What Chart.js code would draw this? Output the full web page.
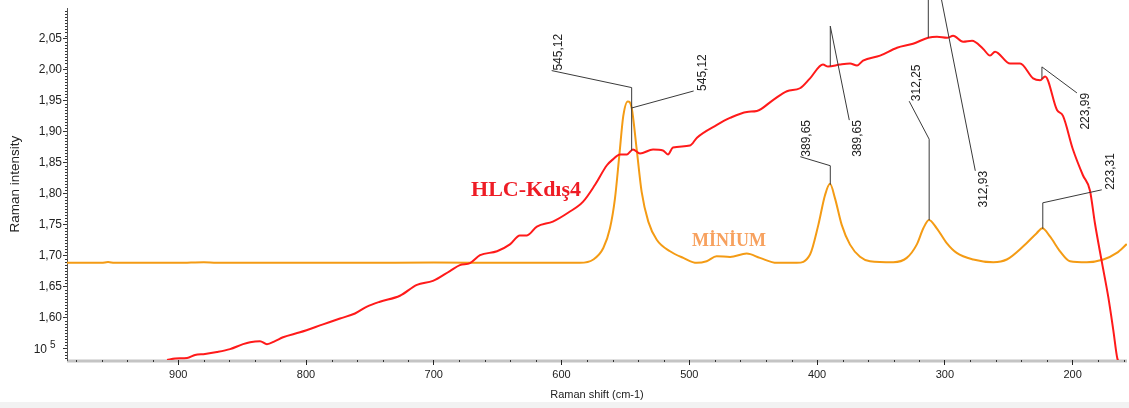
<!DOCTYPE html>
<html>
<head>
<meta charset="utf-8">
<script src="https://cdn.jsdelivr.net/npm/chart.js@4.4.1/dist/chart.umd.min.js"></script>
<style>
  html, body { margin: 0; padding: 0; background: #fff; }
  #wrap { width: 1129px; height: 408px; }
</style>
</head>
<body>
<div id="wrap"><canvas id="c" width="1129" height="408"></canvas></div>
<script>
// Raman spectra: HLC-Kdış4 (red) vs MİNİUM reference (orange), intensities in 10^5
var redShift = [908.8, 902.5, 893.1, 886.9, 879.1, 869.7, 859.5, 849.3, 843.8, 836.0, 830.6, 824.3, 818.0, 804.7,
  786.7, 773.4, 761.7, 752.3, 742.2, 726.5, 713.2, 700.7, 687.4, 679.6, 671.6, 663.8, 650.5, 640.4, 632.6, 627.1,
  619.3, 606.8, 594.9, 583.3, 573.9, 564.5, 559.8, 554.3, 548.8, 544.1, 538.6, 528.4, 520.6, 516.7, 512.8, 499.5,
  494.0, 478.4, 468.2, 454.9, 447.1, 434.5, 423.6, 413.4, 405.5, 395.4, 391.4, 382.0, 374.2, 368.7, 364.0, 350.7,
  337.4, 324.9, 313.1, 306.1, 298.2, 293.5, 285.7, 278.7, 270.1, 264.6, 260.7, 248.9, 241.1, 230.9, 225.4, 221.5,
  212.2, 207.5, 199.7, 191.9, 186.4, 182.5, 177.2, 172.0, 168.1, 165.0, 163.6];
var redInt = [1.5313, 1.5337, 1.5345, 1.5393, 1.5409, 1.5441, 1.5489, 1.5569, 1.5601, 1.5617, 1.5569, 1.5617, 1.5680, 1.5760,
  1.5888, 1.5983, 1.6063, 1.6175, 1.6254, 1.6350, 1.6526, 1.6589, 1.6749, 1.6845, 1.6877, 1.7004, 1.7068, 1.7179, 1.7323, 1.7323,
  1.7467, 1.7547, 1.7690, 1.7865, 1.8137, 1.8456, 1.8551, 1.8631, 1.8631, 1.8710, 1.8647, 1.8710, 1.8695, 1.8631, 1.8742, 1.8774,
  1.8902, 1.9108, 1.9220, 1.9317, 1.9332, 1.9508, 1.9651, 1.9699, 1.9859, 2.0082, 2.0050, 2.0082, 2.0098, 2.0066, 2.0146, 2.0226,
  2.0353, 2.0417, 2.0513, 2.0529, 2.0513, 2.0545, 2.0449, 2.0465, 2.0337, 2.0226, 2.0290, 2.0098, 2.0098, 1.9859, 1.9827, 1.9890,
  1.9348, 1.9252, 1.8710, 1.8295, 1.8050, 1.7520, 1.6908, 1.6323, 1.5792, 1.5340, 1.5280];

var minShift = [987.1, 960, 955, 950, 900, 880, 870, 820, 760, 700, 640, 600, 585.6, 575.1, 567.3, 562.1, 558.2, 554.8,
  551.7, 548.2, 545.1, 541.2, 537.3, 532.1, 525.5, 515.1, 504.7, 494.2, 486.4, 478.6, 468.1, 455.1, 444.7, 431.6, 415.9,
  405.5, 399.0, 393.8, 389.9, 385.9, 380.7, 374.2, 366.4, 358.6, 340.3, 329.8, 322.0, 316.8, 312.4, 306.3, 298.5, 290.7,
  277.7, 262.0, 251.5, 238.6, 228.1, 223.7, 217.7, 209.8, 202.0, 188.9, 175.9, 165.4, 157.6];
var minInt = [1.6881, 1.6881, 1.6895, 1.6881, 1.6881, 1.6892, 1.6881, 1.6881, 1.6881, 1.6885, 1.6881, 1.6881, 1.6881, 1.6935, 1.7120, 1.7439, 1.7918, 1.8610,
  1.9248, 1.9487, 1.9380, 1.8715, 1.8025, 1.7546, 1.7254, 1.7068, 1.6961, 1.6881, 1.6908, 1.6988, 1.6977, 1.7031, 1.6961, 1.6881, 1.6881,
  1.7015, 1.7494, 1.7972, 1.8157, 1.7918, 1.7494, 1.7175, 1.6980, 1.6908, 1.6892, 1.6961, 1.7175, 1.7439, 1.7573, 1.7439, 1.7200, 1.7041,
  1.6935, 1.6892, 1.6935, 1.7148, 1.7360, 1.7439, 1.7307, 1.7068, 1.6908, 1.6892, 1.6935, 1.7041, 1.7184];

var redPeaks = [545.12, 389.65, 312.93, 223.99];
var minPeaks = [545.12, 389.65, 312.25, 223.31];

var xTicks = [900, 800, 700, 600, 500, 400, 300, 200];
var yTicks = [1.55, 1.60, 1.65, 1.70, 1.75, 1.80, 1.85, 1.90, 1.95, 2.00, 2.05];

// leader geometry (px): rise above the curve, diagonal to the label, label side
var redLeaders = [
  { rise: 63, dx: -80, dy: -17, align: 'left', off: 7 },
  { rise: 40, dx: 19, dy: 94, align: 'right', off: 8 },
  { rise: 105, dx: 47, dy: 238, align: 'right', off: 8 },
  { rise: 12, dx: 35, dy: 26, align: 'right', off: 9 }
];
var minLeaders = [
  { rise: 0, dx: 62, dy: -17, align: 'left', off: 9 },
  { rise: 19, dx: -30, dy: -9, align: 'left', off: 6 },
  { rise: 81, dx: -20, dy: -38, align: 'left', off: 8 },
  { rise: 26, dx: 59, dy: -13, align: 'left', off: 9 }
];

var SANS = '"Liberation Sans", Arial, sans-serif';
var SERIF = '"Liberation Serif", "Times New Roman", serif';
var RED = '#ff1a1a', ORANGE = '#f49b14';

function pts(xs, ys) { return xs.map(function (x, i) { return { x: x, y: ys[i] }; }); }
function fmt(v) { return v.toFixed(2).replace('.', ','); }
function interp(xs, ys, v) {
  for (var i = 0; i < xs.length - 1; i++) {
    var a = xs[i], b = xs[i + 1];
    if ((v <= a && v >= b) || (v >= a && v <= b)) return ys[i] + (ys[i + 1] - ys[i]) * (v - a) / (b - a);
  }
  return ys[ys.length - 1];
}

function drawPeaks(ctx, xs, ys, peaks, leaders, sx, sy) {
  peaks.forEach(function (p, i) {
    var L = leaders[i];
    var px = sx.getPixelForValue(p), py = sy.getPixelForValue(interp(xs, ys, p));
    var cy = py - L.rise, ex = px + L.dx, ey = cy + L.dy;
    ctx.beginPath();
    ctx.moveTo(px, py); ctx.lineTo(px, cy); ctx.lineTo(ex, ey);
    ctx.stroke();
    ctx.save();
    ctx.translate(ex + L.off, ey);
    ctx.rotate(-Math.PI / 2);
    ctx.textAlign = L.align;
    ctx.textBaseline = 'middle';
    ctx.fillText(fmt(p), 0, 0);
    ctx.restore();
  });
}

var decor = {
  id: 'decor',
  beforeDraw: function (chart) {
    var ctx = chart.ctx, a = chart.chartArea;
    ctx.save();
    ctx.fillStyle = '#fff';
    ctx.fillRect(0, 0, chart.width, chart.height);
    ctx.fillStyle = '#f2f2f2';
    ctx.fillRect(0, 402, chart.width, 6);
    ctx.strokeStyle = '#c4c4c4';
    ctx.lineWidth = 3;
    ctx.beginPath(); ctx.moveTo(a.left, a.bottom + 1); ctx.lineTo(a.right, a.bottom + 1); ctx.stroke();
    ctx.restore();
  },
  afterDatasetsDraw: function (chart) {
    var ctx = chart.ctx, a = chart.chartArea, sx = chart.scales.x, sy = chart.scales.y;
    ctx.save();
    // minor ticks
    ctx.strokeStyle = '#333';
    ctx.lineWidth = 1;
    ctx.beginPath();
    for (var v = 160; v <= 980; v += 20) {
      if (v % 100 === 0) continue;
      var x = Math.round(sx.getPixelForValue(v)) + 0.5;
      ctx.moveTo(x, a.bottom); ctx.lineTo(x, a.bottom + 2);
    }
    for (var k = 307; k <= 419; k++) {
      if (k % 10 === 0) continue;
      var y = Math.round(sy.getPixelForValue(k / 200)) + 0.5;
      ctx.moveTo(a.left - 2, y); ctx.lineTo(a.left, y);
    }
    ctx.stroke();

    // exponent label at the lowest tick
    var y0 = sy.getPixelForValue(yTicks[0]);
    ctx.fillStyle = '#222';
    ctx.textBaseline = 'middle';
    ctx.textAlign = 'right';
    ctx.font = '12px ' + SANS;
    ctx.fillText('10', a.left - 20, y0 + 1);
    ctx.textAlign = 'left';
    ctx.font = '10px ' + SANS;
    ctx.fillText('5', a.left - 17, y0 - 3);

    // peak markers
    ctx.strokeStyle = '#3a3a3a';
    ctx.font = '12px ' + SANS;
    drawPeaks(ctx, redShift, redInt, redPeaks, redLeaders, sx, sy);
    drawPeaks(ctx, minShift, minInt, minPeaks, minLeaders, sx, sy);

    // series names
    ctx.textAlign = 'center';
    ctx.textBaseline = 'middle';
    ctx.font = 'bold 22px ' + SERIF;
    ctx.fillStyle = '#ee1c25';
    ctx.fillText('HLC-Kdış4', sx.getPixelForValue(627.8), sy.getPixelForValue(1.8057));
    ctx.font = 'bold 18px ' + SERIF;
    ctx.fillStyle = '#f7a15e';
    ctx.fillText('MİNİUM', sx.getPixelForValue(468.9), sy.getPixelForValue(1.7227));
    ctx.restore();
  }
};

new Chart(document.getElementById('c'), {
  type: 'line',
  data: {
    datasets: [
      { label: 'HLC-Kdış4', data: pts(redShift, redInt), borderColor: RED, borderWidth: 2,
        pointRadius: 0, cubicInterpolationMode: 'monotone', fill: false },
      { label: 'MİNİUM', data: pts(minShift, minInt), borderColor: ORANGE, borderWidth: 2,
        pointRadius: 0, cubicInterpolationMode: 'monotone', fill: false }
    ]
  },
  options: {
    responsive: false,
    animation: false,
    devicePixelRatio: 1,
    layout: { padding: { top: 4, right: 2, left: 0, bottom: 0 } },
    plugins: { legend: { display: false }, tooltip: { enabled: false } },
    scales: {
      x: {
        type: 'linear', reverse: true, min: 157.4, max: 987.1,
        afterFit: function (s) { s.height = 48; },
        afterBuildTicks: function (s) { s.ticks = xTicks.map(function (v) { return { value: v }; }); },
        ticks: { color: '#222', font: { family: SANS, size: 11 }, padding: 3, maxRotation: 0, autoSkip: false,
          callback: function (v) { return String(v); } },
        grid: { drawOnChartArea: false, drawTicks: true, tickLength: 5, color: '#222', lineWidth: 1 },
        border: { display: false },
        title: { display: true, text: 'Raman shift (cm-1)', color: '#222', font: { family: SANS, size: 11 },
          padding: { top: 0, bottom: 6 } }
      },
      y: {
        min: 1.5313, max: 2.0991,
        afterFit: function (s) { s.width = 67; },
        afterBuildTicks: function (s) { s.ticks = yTicks.map(function (v) { return { value: v }; }); },
        ticks: { color: '#222', font: { family: SANS, size: 12 }, padding: 1,
          callback: function (v) { return v === yTicks[0] ? '' : fmt(v); } },
        grid: { drawOnChartArea: false, drawTicks: true, tickLength: 4, color: '#333', lineWidth: 1 },
        border: { display: true, color: '#555', width: 1 },
        title: { display: true, text: 'Raman intensity', color: '#222', font: { family: SANS, size: 13.5 },
          padding: { top: 7, bottom: 0 } }
      }
    }
  },
  plugins: [decor]
});
</script>
</body>
</html>
